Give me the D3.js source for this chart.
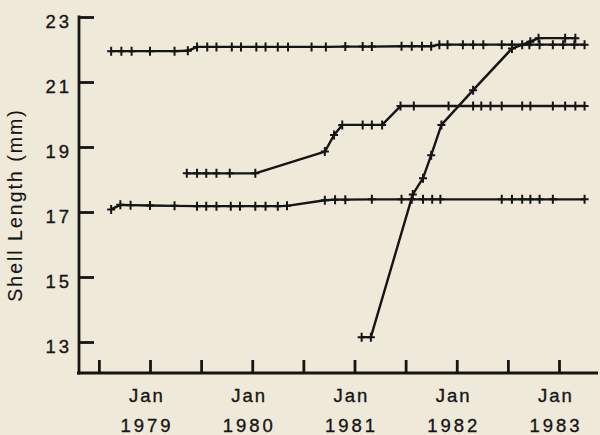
<!DOCTYPE html>
<html>
<head>
<meta charset="utf-8">
<script src="https://cdn.jsdelivr.net/npm/d3@7"></script>
<style>
  html, body { margin: 0; padding: 0; background: #efe9da; }
  svg { display: block; }
  text { font-family: "Liberation Sans", Arial, Helvetica, sans-serif; fill: #151515; stroke: #151515; stroke-width: 0.35px; }
  text.axis-title { stroke-width: 0.1px; }
</style>
</head>
<body>
<svg id="chart" width="600" height="435"></svg>
<script>
// Y axis ticks (mm) and the January labels along the time axis
const yTicks = [13, 15, 17, 19, 21, 23];
const yearLabels = [1979, 1980, 1981, 1982, 1983];
const halfYearTicks = [1978.5, 1979, 1979.5, 1980, 1980.5, 1981, 1981.5, 1982, 1982.5, 1983];

// Individual shell growth records: measurement dates (decimal years) and lengths (mm)
const shellA_dates = [1978.62, 1978.72, 1978.82, 1979.00, 1979.24, 1979.37, 1979.46, 1979.56, 1979.65, 1979.80,
  1979.89, 1980.04, 1980.13, 1980.25, 1980.35, 1980.58, 1980.72, 1980.91, 1981.08, 1981.17,
  1981.46, 1981.56, 1981.66, 1981.75, 1981.83, 1981.91, 1982.06, 1982.16, 1982.26, 1982.44,
  1982.54, 1982.64, 1982.71, 1982.81, 1982.94, 1983.04, 1983.15, 1983.25];
const shellA_lengths = [21.95, 21.95, 21.95, 21.95, 21.95, 21.96, 22.08, 22.08, 22.08, 22.08,
  22.08, 22.08, 22.08, 22.08, 22.08, 22.08, 22.08, 22.09, 22.09, 22.09,
  22.10, 22.10, 22.10, 22.10, 22.15, 22.15, 22.15, 22.15, 22.15, 22.15,
  22.15, 22.15, 22.15, 22.15, 22.15, 22.15, 22.15, 22.15];

const shellB_dates = [1979.36, 1979.46, 1979.55, 1979.65, 1979.78, 1980.03, 1980.71, 1980.80, 1980.88, 1981.08,
  1981.17, 1981.27, 1981.45, 1981.58, 1981.92, 1982.16, 1982.24, 1982.33, 1982.44, 1982.64,
  1982.72, 1982.94, 1983.06, 1983.16, 1983.25];
const shellB_lengths = [18.19, 18.19, 18.19, 18.19, 18.19, 18.19, 18.86, 19.37, 19.68, 19.68,
  19.68, 19.68, 20.26, 20.26, 20.26, 20.26, 20.26, 20.26, 20.26, 20.26,
  20.26, 20.26, 20.26, 20.26, 20.26];

const shellC_dates = [1978.62, 1978.71, 1978.81, 1979.00, 1979.24, 1979.46, 1979.55, 1979.65, 1979.79, 1979.88,
  1980.03, 1980.13, 1980.25, 1980.34, 1980.71, 1980.81, 1980.91, 1981.17, 1981.46, 1981.56,
  1981.67, 1981.76, 1981.84, 1982.44, 1982.54, 1982.64, 1982.72, 1982.81, 1982.94, 1983.25];
const shellC_lengths = [17.08, 17.22, 17.21, 17.20, 17.19, 17.18, 17.18, 17.18, 17.18, 17.18,
  17.18, 17.18, 17.18, 17.19, 17.36, 17.38, 17.38, 17.39, 17.39, 17.39,
  17.39, 17.39, 17.39, 17.39, 17.39, 17.39, 17.39, 17.39, 17.39, 17.39];

const shellD_dates = [1981.07, 1981.16, 1981.57, 1981.67, 1981.75, 1981.85, 1982.16, 1982.54, 1982.72, 1982.80,
  1983.06, 1983.16];
const shellD_lengths = [13.15, 13.15, 17.54, 18.04, 18.75, 19.68, 20.75, 22.03, 22.24, 22.35,
  22.35, 22.35];

const records = [
  { dates: shellA_dates, lengths: shellA_lengths },
  { dates: shellB_dates, lengths: shellB_lengths },
  { dates: shellC_dates, lengths: shellC_lengths },
  { dates: shellD_dates, lengths: shellD_lengths }
];

const ink = "#151515";
const svg = d3.select("#chart");

const axisLeftX = 79;
const axisBottomY = 373;
const plotRight = 598;

const x = d3.scaleLinear().domain([1979, 1983]).range([150, 559]);
const y = d3.scaleLinear().domain([13, 23]).range([342, 17]);

// Y axis: ticks point inward, labels on the left
const yAxis = d3.axisLeft(y)
  .tickValues(yTicks)
  .tickSizeInner(-15)
  .tickSizeOuter(0)
  .tickPadding(7)
  .tickFormat(d3.format("d"));

const gy = svg.append("g")
  .attr("transform", `translate(${axisLeftX},0)`)
  .call(yAxis);
gy.select(".domain").remove();
gy.selectAll(".tick line").attr("stroke", ink).attr("stroke-width", 2.8);
gy.selectAll(".tick text")
  .attr("dy", "0.55em")
  .style("font-size", "18.5px")
  .style("letter-spacing", "3px")
  .attr("fill", ink);

svg.append("line")
  .attr("x1", axisLeftX).attr("x2", axisLeftX)
  .attr("y1", y(23) - 1.4).attr("y2", axisBottomY + 1.4)
  .attr("stroke", ink).attr("stroke-width", 2.8);

// X axis: half-year ticks pointing up
const xAxis = d3.axisBottom(x)
  .tickValues(halfYearTicks)
  .tickSizeInner(-13)
  .tickSizeOuter(0)
  .tickFormat("");

const gx = svg.append("g")
  .attr("transform", `translate(0,${axisBottomY})`)
  .call(xAxis);
gx.select(".domain").remove();
gx.selectAll(".tick line").attr("stroke", ink).attr("stroke-width", 2.8);

svg.append("line")
  .attr("x1", axisLeftX - 2).attr("x2", plotRight)
  .attr("y1", axisBottomY).attr("y2", axisBottomY)
  .attr("stroke", ink).attr("stroke-width", 2.8);

// Month / year labels under the January ticks
const labels = svg.append("g").attr("text-anchor", "middle")
  .style("font-size", "18.5px");
labels.selectAll("text.month").data(yearLabels).join("text")
  .attr("class", "month")
  .attr("x", d => x(d) - 3)
  .attr("y", 402)
  .style("letter-spacing", "2px")
  .text("Jan");
labels.selectAll("text.year").data(yearLabels).join("text")
  .attr("class", "year")
  .attr("x", d => x(d) - 3)
  .attr("y", 432)
  .style("letter-spacing", "3px")
  .text(d => d);

// Y axis title
svg.append("text")
  .attr("class", "axis-title")
  .attr("transform", "translate(21.5,205) rotate(-90)")
  .attr("text-anchor", "middle")
  .style("font-size", "19.5px")
  .style("letter-spacing", "2px")
  .text("Shell Length (mm)");

// Growth lines with "+" measurement markers
const line = d3.line()
  .x(d => x(d[0]))
  .y(d => y(d[1]));

const plot = svg.append("g");
records.forEach(rec => {
  const pts = rec.dates.map((dt, i) => [dt, rec.lengths[i]]);
  plot.append("path")
    .datum(pts)
    .attr("fill", "none")
    .attr("stroke", ink)
    .attr("stroke-width", 2.4)
    .attr("stroke-linejoin", "round")
    .attr("d", line);
  plot.append("g").selectAll("path")
    .data(pts)
    .join("path")
    .attr("transform", d => `translate(${x(d[0])},${y(d[1])})`)
    .attr("d", "M-4,0H4M0,-4.5V4.5")
    .attr("stroke", ink)
    .attr("stroke-width", 2)
    .attr("fill", "none");
});
</script>
</body>
</html>
